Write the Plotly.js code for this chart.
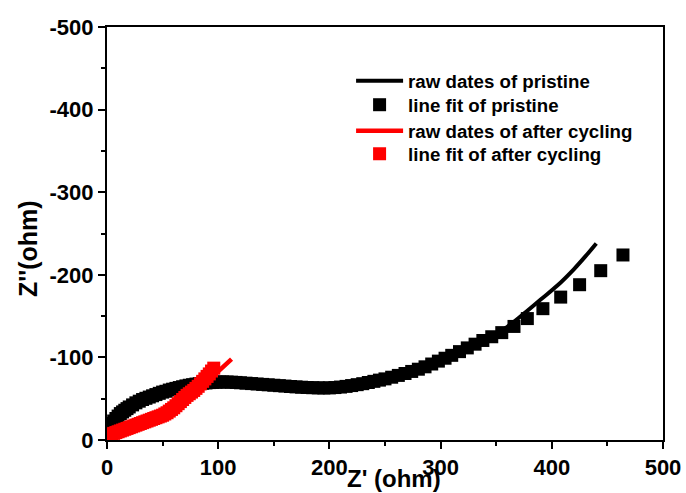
<!DOCTYPE html>
<html>
<head>
<meta charset="utf-8">
<script src="https://cdn.plot.ly/plotly-3.0.1.min.js"></script>
<style>html,body{margin:0;padding:0;background:#fff;}#chart{width:686px;height:493px;}</style>
</head>
<body>
<div id="chart"></div>
<script>
// Pristine: raw data (line)
const pristineRawX = [1, 5, 10, 16, 23, 31, 40, 50, 60, 70, 80, 90, 100, 110, 120, 135, 150, 165, 180, 195, 210, 225, 240, 255, 270, 285, 300, 315, 330, 345, 360, 375, 390, 405, 420, 430, 440];
const pristineRawY = [-14, -20, -27, -34, -40, -46, -51, -56, -60, -64, -67, -69, -70, -70, -69.5, -68, -66.5, -65, -63.8, -63, -64, -66.5, -71, -76.5, -82, -88.5, -96, -104, -113, -124, -137, -153, -170, -187, -207, -222, -238];
// Pristine: line fit (squares)
const pristineFitX = [2, 4, 6, 8, 10, 12, 14, 16, 18, 20, 23, 26, 29, 32, 35, 38, 41, 44, 47, 50, 53, 56, 59, 62, 65, 68, 71, 74, 77, 80, 83, 86, 89, 92, 95, 98, 101, 104, 108, 112, 116, 120, 125, 130, 135, 140, 145, 150, 155, 160, 165, 170, 175, 180, 185, 190, 195, 200, 205, 210, 215, 220, 225, 230, 235, 240, 245, 250, 256, 262, 268, 274, 280, 286, 292, 298, 304, 310, 317, 324, 331, 338, 346, 355, 366, 378, 392, 408, 425, 444, 464];
const pristineFitY = [-17, -20, -23, -26, -29, -32, -34, -36, -38, -40, -42.5, -45, -47, -49, -50.5, -52, -53.5, -55, -56.5, -58, -59, -60.5, -61.5, -62.5, -63.5, -64.5, -65.5, -66.3, -67, -67.7, -68.2, -68.7, -69.1, -69.5, -69.8, -70, -70.2, -70.3, -70.2, -70, -69.7, -69.3, -68.8, -68.3, -67.8, -67.3, -66.8, -66.3, -65.8, -65.3, -64.8, -64.3, -63.9, -63.6, -63.3, -63.1, -63, -63.1, -63.5, -64.1, -64.9, -65.9, -67, -68.2, -69.6, -71, -72.5, -74, -76, -78.2, -80.5, -83, -85.7, -88.6, -92, -95.5, -99, -102.5, -107, -111.5, -116, -120.5, -125, -130, -137.5, -147, -159, -173, -188, -205, -224];
// After cycling: raw data (line)
const cycledRawX = [0, 10, 20, 30, 40, 50, 60, 70, 80, 90, 100, 112];
const cycledRawY = [-5, -8, -12, -17, -22, -29, -37, -47, -58, -70, -83, -98];
// After cycling: line fit (squares)
const cycledFitX = [2, 4, 6, 8, 10, 12, 14, 16, 18, 20, 22, 24, 26, 28, 30, 32, 34, 36, 38, 40, 42, 44, 46, 48, 50, 52, 54, 56, 58, 60, 62, 64, 66, 68, 70, 72, 74, 76, 78, 80, 82, 84, 86, 88, 90, 92, 94, 96];
const cycledFitY = [-6, -7, -8, -9, -10, -11, -12, -13, -14, -15, -16, -17, -18, -19, -20, -21, -22, -23, -24, -25, -26, -27, -28, -29, -30, -31.5, -33, -35, -37, -39, -41.5, -44, -46.5, -49, -51.5, -54, -56, -58, -60, -62.5, -65, -68, -71, -74, -77, -80, -83.5, -87];

const seriesNames = ["raw dates of pristine", "line fit of pristine", "raw dates of after cycling", "line fit of after cycling"];
const xTickVals = [0, 100, 200, 300, 400, 500];
const xTickText = ["0", "100", "200", "300", "400", "500"];
const yTickVals = [0, -100, -200, -300, -400, -500];
const yTickText = ["0", "-100", "-200", "-300", "-400", "-500"];
const xTitle = "Z' (ohm)";
const yTitle = "Z''(ohm)";

const FONT = "Liberation Sans, Arial, sans-serif";

const traces = [
  {x: pristineRawX, y: pristineRawY, name: seriesNames[0], type: "scatter", mode: "lines",
   line: {color: "#000000", width: 4, shape: "spline"}, legend: "legend"},
  {x: pristineFitX, y: pristineFitY, name: seriesNames[1], type: "scatter", mode: "markers",
   marker: {symbol: "square", size: 13, color: "#000000"}, legend: "legend2"},
  {x: cycledRawX, y: cycledRawY, name: seriesNames[2], type: "scatter", mode: "lines",
   line: {color: "#ff0000", width: 4.5, shape: "spline"}, legend: "legend3"},
  {x: cycledFitX, y: cycledFitY, name: seriesNames[3], type: "scatter", mode: "markers",
   marker: {symbol: "square", size: 13, color: "#ff0000"}, legend: "legend4"}
];

const axisCommon = {
  showgrid: false, zeroline: false, showline: true, linecolor: "#000", linewidth: 2,
  mirror: true, ticks: "outside", ticklen: 7, tickwidth: 2, tickcolor: "#000",
  tickfont: {family: FONT, size: 22, color: "#000", weight: 700},
  minor: {dtick: 50, ticks: "outside", ticklen: 4, tickwidth: 2, tickcolor: "#000"}
};

function legendAt(y) {
  return {x: 0.439, y: y, xanchor: "left", yanchor: "middle", bgcolor: "rgba(0,0,0,0)",
    font: {family: FONT, size: 18.7, color: "#000", weight: 700}, itemwidth: 47};
}

const layout = {
  width: 686, height: 493,
  margin: {l: 107, r: 23, t: 27, b: 53},
  paper_bgcolor: "#ffffff", plot_bgcolor: "#ffffff",
  font: {family: FONT, color: "#000"},
  showlegend: true,
  legend: legendAt(0.869),
  legend2: legendAt(0.811),
  legend3: legendAt(0.748),
  legend4: legendAt(0.692),
  xaxis: Object.assign({}, axisCommon, {
    range: [0, 500], tickmode: "array", tickvals: xTickVals, ticktext: xTickText
  }),
  yaxis: Object.assign({}, axisCommon, {
    range: [0, -500], tickmode: "array", tickvals: yTickVals, ticktext: yTickText
  }),
  annotations: [
    {text: xTitle, xref: "paper", yref: "paper", x: 0.516, y: -0.094, xanchor: "center", yanchor: "middle",
     showarrow: false, font: {family: FONT, size: 24, color: "#000", weight: 700}},
    {text: yTitle, xref: "paper", yref: "paper", x: -0.142, y: 0.4625, xanchor: "center", yanchor: "middle",
     textangle: -90, showarrow: false, font: {family: FONT, size: 25, color: "#000", weight: 700}}
  ]
};

Plotly.newPlot("chart", traces, layout, {displayModeBar: false, staticPlot: true});
</script>
</body>
</html>
